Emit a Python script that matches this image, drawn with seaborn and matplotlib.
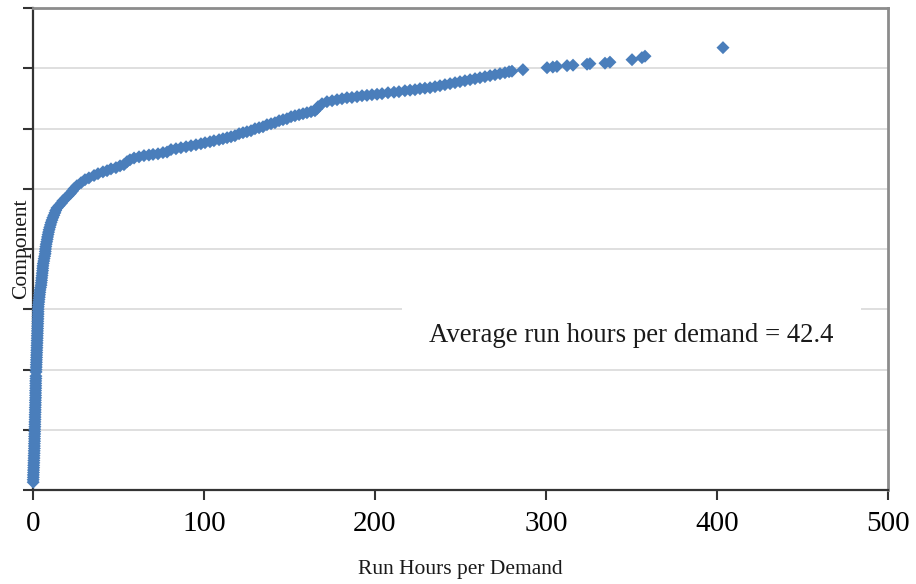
import matplotlib
matplotlib.use("Agg")
import matplotlib.pyplot as plt
from matplotlib.patches import Rectangle
import pandas as pd
import seaborn as sns

# ---------------- data ----------------
# lower, almost vertical part of the curve (very short run hours)
rank_low = [13, 17, 21, 25, 29, 33, 37, 41, 45, 49, 53, 57, 61, 65, 69, 73, 77, 81,
            85, 89, 93, 97, 101, 105, 109, 113, 117, 121, 125, 129, 133, 137, 141,
            145, 149, 153, 157, 161, 165, 169, 173, 177, 181, 185, 189,
            196, 200, 204, 208, 212, 216, 220, 224, 228, 232, 236, 240, 244, 248,
            252, 256, 260, 264, 268, 272, 276, 280, 284, 288, 292, 296]
hours_low = [0.1, 0.1, 0.2, 0.2, 0.3, 0.3, 0.4, 0.4, 0.5, 0.5, 0.6, 0.6, 0.7, 0.7,
             0.8, 0.8, 0.8, 0.9, 0.9, 0.9, 1.0, 1.0, 1.0, 1.1, 1.1, 1.1, 1.2, 1.2,
             1.2, 1.3, 1.3, 1.3, 1.4, 1.4, 1.4, 1.5, 1.5, 1.5, 1.5, 1.6, 1.6, 1.6,
             1.6, 1.7, 1.7,
             1.8, 1.8, 1.9, 1.9, 2.0, 2.0, 2.1, 2.1, 2.2, 2.2, 2.3, 2.3, 2.4, 2.4,
             2.5, 2.5, 2.6, 2.6, 2.7, 2.7, 2.8, 2.8, 2.9, 2.9, 3.0, 3.0]

# knee of the curve
rank_knee = [300, 304, 308, 312, 316, 320, 324, 328, 332, 336, 340, 344, 348, 352,
             356, 360, 364, 368, 372, 376, 380, 384, 388, 392, 396, 400, 404, 408,
             412, 416, 420, 424, 428, 432, 436, 440, 444, 448, 452, 456, 460, 464,
             468, 472, 476, 480, 484, 488, 492, 496,
             500, 505, 510, 515, 518, 522, 525, 528, 530, 533, 535, 538, 540, 545,
             548, 551, 553, 555, 556, 557, 558, 560, 561, 565]
hours_knee = [3.0, 3.1, 3.2, 3.4, 3.5, 3.7, 3.8, 4.0, 4.1, 4.4, 4.7, 4.8, 5.0, 5.1,
              5.3, 5.4, 5.6, 5.7, 5.8, 6.0, 6.3, 6.5, 6.8, 7.1, 7.2, 7.3, 7.5, 7.7,
              8.0, 8.3, 8.5, 8.8, 9.1, 9.4, 9.8, 10.2, 10.6, 11.1, 11.6, 12.2, 12.8,
              13.3, 14.0, 15.3, 16.6, 17.5, 19.0, 20.4, 21.8, 23.0,
              24.0, 25.7, 28.1, 30.4, 32.7, 35.7, 38.0, 40.9, 43.3, 45.6, 48.5,
              50.9, 53.2, 55.0, 56.7, 59.1, 62.0, 64.9, 67.8, 70.2, 73.1, 76.0,
              78.4, 80.7]

# long, gently rising body
rank_body = [566.4, 568.1, 569.7, 571.4, 573.0, 574.7, 576.4, 578.0, 579.7, 581.4,
             583.0, 584.7, 586.3, 588.0, 591.3, 593.0, 594.6, 596.3, 599.6, 601.3,
             602.9, 606.3, 607.9, 609.6, 612.9, 614.6, 616.2, 619.6, 621.2, 622.9,
             624.5, 626.2, 627.9, 629.5, 632.9, 636.2, 641.1, 644.5, 646.1, 647.8,
             649.4, 651.1, 651.5, 652.8, 654.4, 655.0, 656.1, 656.8, 657.8, 659.4,
             660.2, 661.1, 662.7, 663.6, 664.4, 666.1, 666.9, 667.7, 669.4, 671.0,
             672.7, 674.4, 676.0, 677.7, 679.3, 681.0, 682.7, 684.3, 686.0, 687.7,
             689.3, 691.0, 692.6, 694.3, 695.1]
hours_body = [83.6, 86.5, 89.5, 92.4, 95.3, 98.2, 100.6, 103.5, 105.8, 108.8,
              111.1, 113.5, 115.8, 118.1, 120.5, 122.8, 125.1, 127.5, 129.8, 132.2,
              134.5, 136.8, 139.2, 141.5, 143.9, 146.2, 148.5, 150.9, 153.2, 155.6,
              157.9, 160.2, 162.6, 164.9, 166.1, 166.7, 169.0, 171.9, 174.9, 177.8,
              180.7, 183.6, 186.5, 189.5, 192.4, 195.3, 198.2, 201.2, 204.1, 207.6,
              211.1, 214.0, 217.5, 220.5, 223.4, 226.3, 229.2, 232.2, 235.1, 238.0,
              240.9, 243.9, 246.8, 249.7, 252.6, 255.6, 258.5, 261.4, 264.3, 267.3,
              270.2, 273.1, 276.0, 278.4, 280.1]

# sparse upper tail
rank_tail = [697.6, 700.9, 702.0, 703.0, 704.3, 705.1, 706.7, 707.6, 708.4, 710.1,
             714.2, 717.6, 720.0, 734.2]
hours_tail = [286.5, 300.6, 304.0, 306.4, 312.3, 315.8, 324.0, 325.7, 334.5, 337.4,
              350.3, 356.1, 357.9, 403.5]

x_ticks = [0, 100, 200, 300, 400, 500]
y_ticks = [0, 100, 200, 300, 400, 500, 600, 700, 800]
x_label = "Run Hours per Demand"
y_label = "Component"
note = "Average run hours per demand = 42.4"

df = pd.DataFrame({
    "hours": hours_low + hours_knee + hours_body + hours_tail,
    "rank": rank_low + rank_knee + rank_body + rank_tail,
})

# ---------------- figure ----------------
plt.rcParams["font.family"] = ["Liberation Serif", "DejaVu Serif"]

fig = plt.figure(figsize=(9.16, 5.84), dpi=100)
ax = fig.add_axes([33 / 916, 94 / 584, 855 / 916, 482 / 584])

sns.scatterplot(data=df, x="hours", y="rank", marker="D", s=44,
                color="#4A7EBB", edgecolor="none", linewidth=0, ax=ax,
                zorder=3, clip_on=False)

ax.set_xlim(0, 500)
ax.set_ylim(0, 800)
ax.set_xticks(x_ticks)
ax.set_yticks(y_ticks)
ax.set_yticklabels([])
ax.grid(axis="y", color="#d9d9d9", lw=1.2)
ax.grid(axis="x", visible=False)
ax.set_axisbelow(True)

for side in ("left", "bottom"):
    ax.spines[side].set_color("#333333")
    ax.spines[side].set_linewidth(1.6)
for side in ("top", "right"):
    ax.spines[side].set_color("#8c8c8c")
    ax.spines[side].set_linewidth(2.0)

ax.tick_params(axis="x", direction="out", length=7, width=1.5, color="#333333",
               labelsize=21, pad=8, bottom=True)
ax.tick_params(axis="y", direction="out", length=7, width=1.5, color="#333333",
               left=True)

ax.set_xlabel(x_label, fontsize=15.5, labelpad=17, color="#1a1a1a")
ax.set_ylabel(y_label, fontsize=15.5, labelpad=-9, color="#1a1a1a")

# white box behind the annotation (hides the gridline)
ax.add_patch(Rectangle((216, 213), 268, 103, facecolor="white",
                       edgecolor="none", zorder=2))
ax.text(349.7, 256, note, fontsize=19.3, ha="center", va="center",
        color="#1a1a1a", zorder=4)

fig.savefig("out.png", dpi=100)
